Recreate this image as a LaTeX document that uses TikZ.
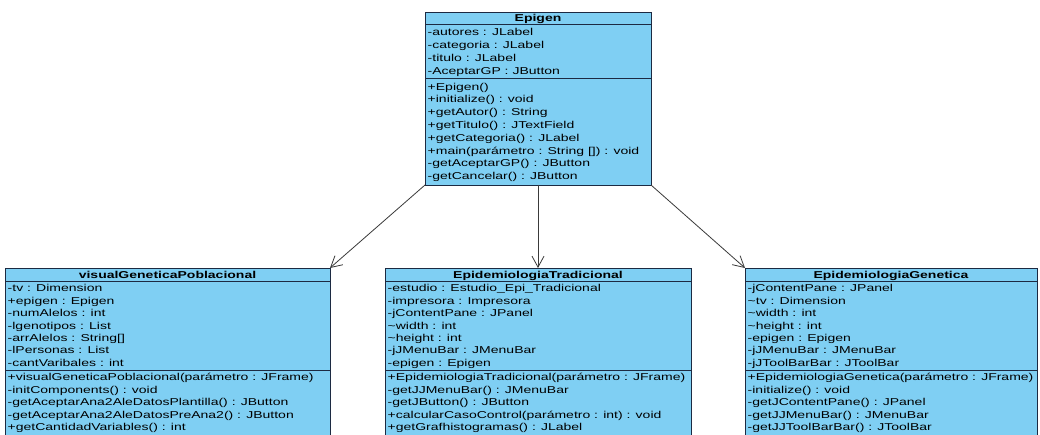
\documentclass[tikz,border=0pt]{standalone}
\usepackage{fontspec}
\setmainfont{Liberation Sans}
\newfontfamily\umlfont[FakeStretch=1.4]{Liberation Sans}
\usetikzlibrary{arrows.meta}

\definecolor{classfill}{RGB}{127,207,243}
\definecolor{classline}{RGB}{28,42,66}
\definecolor{linkline}{RGB}{58,58,58}

% rows of a compartment: #1 name prefix, #2 text x, #3 first row centre y, #4 row step, #5 rows
\newcommand\umlmembers[5]{%
  \foreach \txt [count=\k from 1] in {#5}
    \node[member] (#1\k) at (#2, {#3+(\k-1)*#4+3.6}) {\txt};}

\begin{document}
\begin{tikzpicture}[x=1pt,y=-1pt,
  classbox/.style={draw=classline, fill=classfill, line width=0.9pt,
    inner sep=0pt, outer sep=0pt, anchor=north west},
  member/.style={anchor=base west, inner sep=0pt, text=black,
    font=\umlfont\fontsize{10}{12}\selectfont},
  classname/.style={anchor=base, inner sep=0pt, text=black,
    font=\umlfont\bfseries\fontsize{10}{12}\selectfont},
  sepline/.style={draw=classline, line width=0.9pt},
  generalises/.style={draw=linkline, line width=0.8pt,
    -{Straight Barb[length=11pt, width=12pt, line width=0.8pt]}}
]
\clip (0,0) rectangle (1040,435);
\fill[white] (0,0) rectangle (1040,435);

% ---------------- Epigen ----------------
\node[classbox, minimum width=226pt, minimum height=173pt] (epigen) at (425,12) {};
\node[classname] (epigent) at (538,21.9) {Epigen};
\draw[sepline] (425,24.5) -- (651,24.5);
\draw[sepline] (425,78.7) -- (651,78.7);
\umlmembers{epigena}{427.5}{32.4}{12.8}{-autores : JLabel, -categoria : JLabel,
  -titulo : JLabel, -AceptarGP : JButton}
\umlmembers{epigenm}{427.5}{86.6}{12.8}{+Epigen(), +initialize() : void,
  +getAutor() : String, +getTitulo() : JTextField, +getCategoria() : JLabel,
  +main(parámetro : String []) : void, -getAceptarGP() : JButton,
  -getCancelar() : JButton}

% ---------------- visualGeneticaPoblacional ----------------
\node[classbox, minimum width=325pt, minimum height=200pt] (visual) at (5,268) {};
\node[classname] (visualt) at (167.5,278.1) {visualGeneticaPoblacional};
\draw[sepline] (5,281) -- (330,281);
\draw[sepline] (5,370) -- (330,370);
\umlmembers{visuala}{7.5}{288.2}{12.4}{-tv : Dimension, +epigen : Epigen,
  -numAlelos : int, -lgenotipos : List, -arrAlelos : String[],
  -lPersonas : List, -cantVaribales : int}
\umlmembers{visualm}{7.5}{377.2}{12.4}{+visualGeneticaPoblacional(parámetro : JFrame),
  -initComponents() : void, -getAceptarAna2AleDatosPlantilla() : JButton,
  -getAceptarAna2AleDatosPreAna2() : JButton, +getCantidadVariables() : int}

% ---------------- EpidemiologiaTradicional ----------------
\node[classbox, minimum width=306pt, minimum height=200pt] (trad) at (385,268) {};
\node[classname] (tradt) at (538,278.1) {EpidemiologiaTradicional};
\draw[sepline] (385,281) -- (691,281);
\draw[sepline] (385,370) -- (691,370);
\umlmembers{trada}{387.5}{288.2}{12.4}{-estudio : Estudio\_Epi\_Tradicional,
  -impresora : Impresora, -jContentPane : JPanel, \textasciitilde{}width : int,
  \textasciitilde{}height : int, -jJMenuBar : JMenuBar, -epigen : Epigen}
\umlmembers{tradm}{387.5}{377.2}{12.4}{+EpidemiologiaTradicional(parámetro : JFrame),
  -getJJMenuBar() : JMenuBar, -getJButton() : JButton,
  +calcularCasoControl(parámetro : int) : void, +getGrafhistogramas() : JLabel}

% ---------------- EpidemiologiaGenetica ----------------
\node[classbox, minimum width=292pt, minimum height=200pt] (gen) at (745,268) {};
\node[classname] (gent) at (891,278.1) {EpidemiologiaGenetica};
\draw[sepline] (745,281) -- (1037,281);
\draw[sepline] (745,370) -- (1037,370);
\umlmembers{gena}{747.5}{288.2}{12.4}{-jContentPane : JPanel,
  \textasciitilde{}tv : Dimension, \textasciitilde{}width : int,
  \textasciitilde{}height : int, -epigen : Epigen, -jJMenuBar : JMenuBar,
  -jJToolBarBar : JToolBar}
\umlmembers{genm}{747.5}{377.2}{12.4}{+EpidemiologiaGenetica(parámetro : JFrame),
  -initialize() : void, -getJContentPane() : JPanel, -getJJMenuBar() : JMenuBar,
  -getJJToolBarBar() : JToolBar}

% ---------------- associations ----------------
\draw[generalises] (epigen.south west) -- (visual.north east);
\draw[generalises] (epigen.south) -- (trad.north);
\draw[generalises] (epigen.south east) -- (gen.north west);
\end{tikzpicture}
\end{document}
